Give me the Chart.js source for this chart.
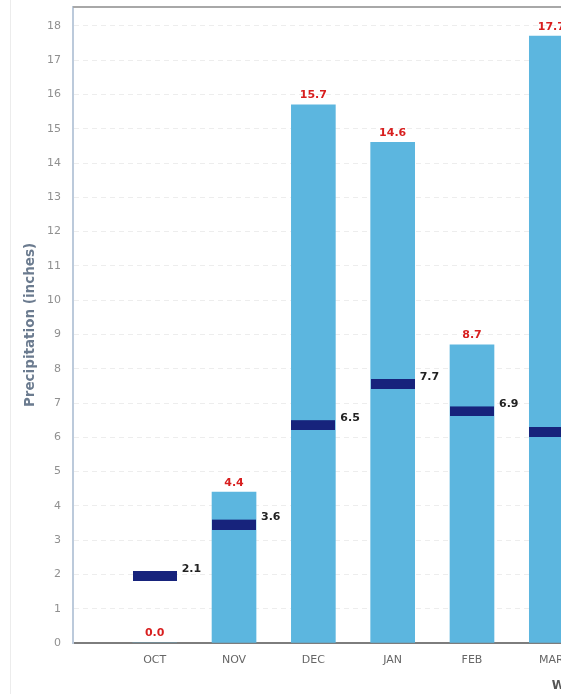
<!DOCTYPE html>
<html>
<head>
<meta charset="utf-8">
<title>Monthly Precipitation</title>
<script src="https://cdn.jsdelivr.net/npm/chart.js@4/dist/chart.umd.min.js"></script>
<style>
  html, body { margin: 0; padding: 0; background: #fff; overflow: hidden; }
  #wrap { position: relative; width: 561px; height: 694px; overflow: hidden; }
  #edge { position: absolute; left: 10px; top: 0; width: 1px; height: 694px; background: #ececec; }
  #chart { position: absolute; left: 0; top: 0; }
</style>
</head>
<body>
<div id="wrap">
  <div id="edge"></div>
  <canvas id="chart" width="1110" height="694"></canvas>
</div>
<script>
// Water-year months shown on the x axis
const months = ['OCT', 'NOV', 'DEC', 'JAN', 'FEB', 'MAR'];
// Observed monthly precipitation (inches)
const precipitation = [0.0, 4.4, 15.7, 14.6, 8.7, 17.7];
// Long-term monthly average (inches)
const average = [2.1, 3.6, 6.5, 7.7, 6.9, 6.3];
// Y axis tick labels
const yTicks = [0, 1, 2, 3, 4, 5, 6, 7, 8, 9, 10, 11, 12, 13, 14, 15, 16, 17, 18];

// Average marker: a flat navy bar whose top edge sits on the value
const markW = 44, markH = 10;
const marker = document.createElement('canvas');
marker.width = markW;
marker.height = markH * 2;
const mctx = marker.getContext('2d');
mctx.fillStyle = '#17237c';
mctx.fillRect(0, markH, markW, markH);

const valueLabels = {
  id: 'valueLabels',
  afterDatasetsDraw(chart) {
    const ctx = chart.ctx;
    ctx.save();
    const bars = chart.getDatasetMeta(0).data;
    ctx.font = 'bold 11px "DejaVu Sans", sans-serif';
    ctx.fillStyle = '#d81f1f';
    ctx.textAlign = 'center';
    ctx.textBaseline = 'bottom';
    bars.forEach((el, i) => {
      ctx.fillText(precipitation[i].toFixed(1), el.x, el.y - 4);
    });
    const marks = chart.getDatasetMeta(1).data;
    ctx.fillStyle = '#222';
    ctx.textAlign = 'left';
    ctx.textBaseline = 'middle';
    marks.forEach((el, i) => {
      ctx.fillText(average[i].toFixed(1), el.x + markW / 2 + 5, el.y - 2);
    });
    ctx.restore();
  }
};

const topFrame = {
  id: 'topFrame',
  beforeDatasetsDraw(chart) {
    const { ctx, chartArea } = chart;
    ctx.save();
    ctx.strokeStyle = '#a8a8a8';
    ctx.lineWidth = 2;
    ctx.beginPath();
    ctx.moveTo(chartArea.left, chartArea.top);
    ctx.lineTo(chartArea.right, chartArea.top);
    ctx.stroke();
    ctx.restore();
  }
};

new Chart(document.getElementById('chart'), {
  type: 'bar',
  data: {
    datasets: [
      {
        type: 'bar',
        label: 'Precipitation',
        data: months.map((m, i) => ({ x: i + 1, y: precipitation[i] })),
        backgroundColor: '#5cb6df',
        barThickness: 44,
        order: 2
      },
      {
        type: 'line',
        label: 'Average',
        data: months.map((m, i) => ({ x: i + 1, y: average[i] })),
        showLine: false,
        pointStyle: marker,
        pointRadius: 22,
        pointHoverRadius: 22,
        clip: false,
        order: 1
      }
    ]
  },
  options: {
    responsive: false,
    animation: false,
    devicePixelRatio: 1,
    layout: { autoPadding: false, padding: { top: 7, left: 0, right: 5, bottom: 0 } },
    plugins: {
      legend: { display: false },
      tooltip: { enabled: false }
    },
    scales: {
      x: {
        type: 'linear',
        offset: false,
        min: -0.03,
        max: 12.98,
        afterBuildTicks: ax => { ax.ticks = months.map((m, i) => ({ value: i + 1 })); },
        afterFit: ax => {
          ax.height = 51;
          ax.paddingLeft = 0;
          ax.paddingRight = 0;
        },
        ticks: {
          callback: v => months[v - 1] || '',
          autoSkip: false,
          maxRotation: 0,
          padding: 11,
          color: '#666',
          font: { family: '"DejaVu Sans", sans-serif', size: 11 }
        },
        grid: { display: false, drawTicks: false, offset: false },
        border: { color: '#7d7d7d', width: 2 },
        title: {
          display: true,
          text: 'Water Year',
          color: '#555',
          font: { family: '"DejaVu Sans", sans-serif', size: 12, weight: 'bold' },
          padding: { top: 0, bottom: 1 }
        }
      },
      y: {
        min: 0,
        max: 18.55,
        afterBuildTicks: ax => { ax.ticks = yTicks.map(v => ({ value: v })); },
        afterFit: ax => {
          ax.width = 73;
          ax.paddingTop = 0;
          ax.paddingBottom = 0;
        },
        ticks: {
          padding: 12,
          color: '#909090',
          font: { family: '"DejaVu Sans", sans-serif', size: 11 }
        },
        grid: { color: 'rgba(0,0,0,0.07)', drawTicks: false },
        border: { color: '#bccadb', width: 2, dash: [5, 4] },
        title: {
          display: true,
          text: 'Precipitation (inches)',
          color: '#6b7b8f',
          font: { family: '"DejaVu Sans", sans-serif', size: 13.5, weight: 'bold' },
          padding: { top: 22, bottom: 0 }
        }
      }
    }
  },
  plugins: [valueLabels, topFrame]
});
</script>
</body>
</html>
